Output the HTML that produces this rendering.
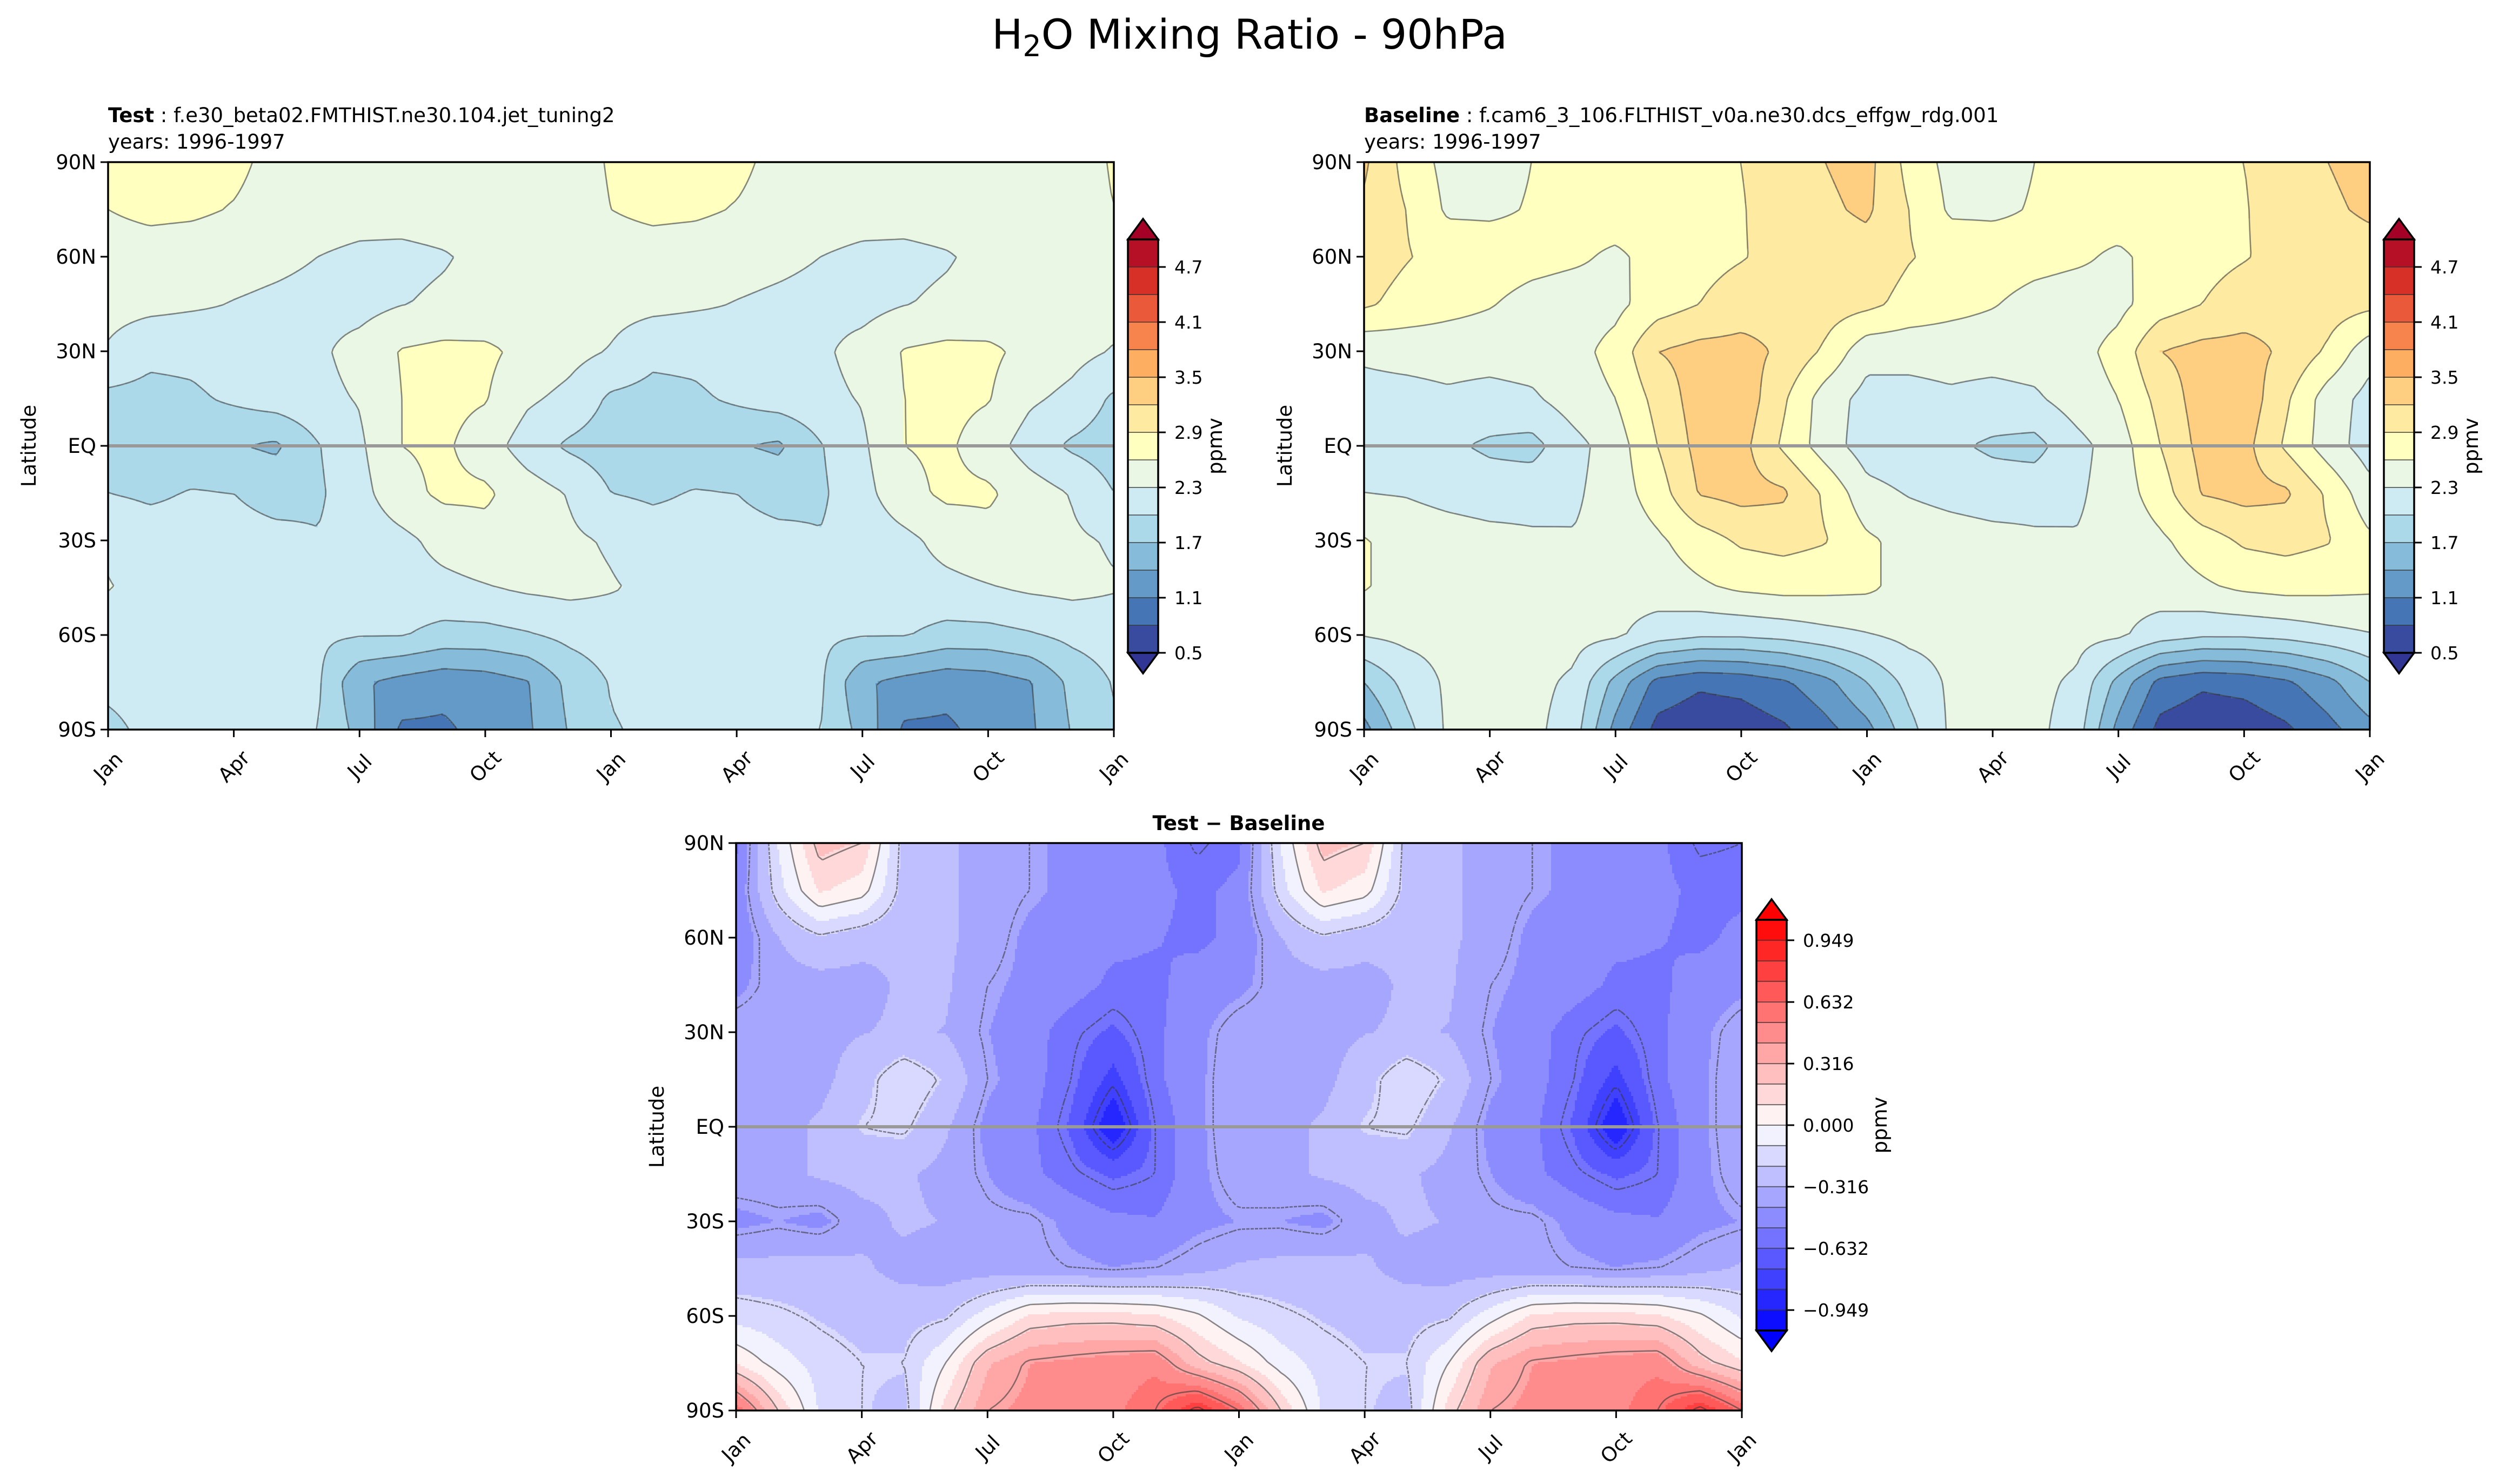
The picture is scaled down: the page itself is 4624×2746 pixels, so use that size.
<!DOCTYPE html>
<html>
<head>
<meta charset="utf-8">
<style>
html,body{margin:0;padding:0;background:#fff;}
svg{display:block;font-family:"DejaVu Sans","Liberation Sans",sans-serif;}
</style>
</head>
<body>
<svg id="fig" width="4624" height="2746" viewBox="0 0 4624 2746" xmlns="http://www.w3.org/2000/svg">
<rect x="0" y="0" width="4624" height="2746" fill="#fff"/>
<text x="2312" y="90" font-size="76" text-anchor="middle">H<tspan font-size="54" dy="14">2</tspan><tspan dy="-14">O Mixing Ratio - 90hPa</tspan></text>
<text x="200" y="226" font-size="37"><tspan font-weight="bold">Test</tspan> : f.e30_beta02.FMTHIST.ne30.104.jet_tuning2</text>
<text x="200" y="275" font-size="37">years: 1996-1997</text>
<text x="2524" y="226" font-size="37"><tspan font-weight="bold">Baseline</tspan> : f.cam6_3_106.FLTHIST_v0a.ne30.dcs_effgw_rdg.001</text>
<text x="2524" y="275" font-size="37">years: 1996-1997</text>
<text x="2292" y="1536" font-size="37" font-weight="bold" text-anchor="middle">Test − Baseline</text>
<g id="layer"></g>
</svg>
<script>
const latitudes=[90,75,60,45,30,15,0,-15,-30,-45,-60,-75,-90];
const monthTicks=[0,3,6,9,12,15,18,21,24];
const monthTickLabels=['Jan','Apr','Jul','Oct','Jan','Apr','Jul','Oct','Jan'];
const latTicks=[90,60,30,0,-30,-60,-90];
const latTickLabels=['90N','60N','30N','EQ','30S','60S','90S'];

const testLevels=[0.5,0.8,1.1,1.4,1.7,2.0,2.3,2.6,2.9,3.2,3.5,3.8,4.1,4.4,4.7,5.0];
const testCbTicks=[0.5,1.1,1.7,2.3,2.9,3.5,4.1,4.7];
const diffLevels=[-1.054,-0.949,-0.843,-0.738,-0.632,-0.527,-0.422,-0.316,-0.211,-0.105,0,0.105,0.211,0.316,0.422,0.527,0.632,0.738,0.843,0.949,1.054];
const diffCbTicks=[-0.949,-0.632,-0.316,0,0.316,0.632,0.949];
const diffCbTickLabels=['\u22120.949','\u22120.632','\u22120.316','0.000','0.316','0.632','0.949'];
const diffLineLevels=[-1.0,-0.8,-0.6,-0.4,-0.2,0.0,0.2,0.4,0.6,0.8];

const testValues=[
[2.62,2.7,2.7,2.68,2.5,2.45,2.45,2.45,2.45,2.45,2.45,2.5,2.62,2.7,2.7,2.68,2.5,2.45,2.45,2.45,2.45,2.45,2.45,2.5,2.62],
[2.6,2.68,2.66,2.58,2.47,2.42,2.4,2.4,2.42,2.44,2.45,2.5,2.6,2.68,2.66,2.58,2.47,2.42,2.4,2.4,2.42,2.44,2.45,2.5,2.6],
[2.45,2.45,2.42,2.4,2.36,2.3,2.25,2.24,2.28,2.36,2.42,2.45,2.45,2.45,2.42,2.4,2.36,2.3,2.25,2.24,2.28,2.36,2.42,2.45,2.45],
[2.4,2.38,2.34,2.29,2.25,2.22,2.2,2.29,2.34,2.38,2.4,2.4,2.4,2.38,2.34,2.29,2.25,2.22,2.2,2.29,2.34,2.38,2.4,2.4,2.4],
[2.27,2.08,2.08,2.15,2.2,2.25,2.4,2.62,2.68,2.66,2.52,2.4,2.28,2.08,2.08,2.15,2.2,2.25,2.4,2.62,2.68,2.66,2.52,2.4,2.28],
[1.92,1.9,1.95,2.05,2.15,2.22,2.32,2.6,2.68,2.62,2.35,2.22,1.95,1.9,1.95,2.05,2.15,2.22,2.32,2.6,2.68,2.62,2.35,2.22,1.95],
[1.85,1.82,1.8,1.72,1.65,1.98,2.25,2.6,2.65,2.45,2.15,1.95,1.85,1.82,1.8,1.72,1.65,1.98,2.25,2.6,2.65,2.45,2.15,1.95,1.85],
[2.0,1.95,2.02,2.0,1.9,1.95,2.2,2.5,2.66,2.65,2.45,2.28,2.0,1.95,2.02,2.0,1.9,1.95,2.2,2.5,2.66,2.65,2.45,2.28,2.0],
[2.27,2.15,2.12,2.1,2.08,2.02,2.12,2.22,2.4,2.5,2.45,2.35,2.27,2.15,2.12,2.1,2.08,2.02,2.12,2.22,2.4,2.5,2.45,2.35,2.27],
[2.31,2.25,2.2,2.18,2.15,2.15,2.15,2.18,2.22,2.28,2.35,2.38,2.32,2.25,2.2,2.18,2.15,2.15,2.15,2.18,2.22,2.28,2.35,2.38,2.32],
[2.15,2.15,2.12,2.1,2.08,2.05,2.02,2.02,1.9,1.9,1.97,2.08,2.15,2.15,2.12,2.1,2.08,2.05,2.02,2.02,1.9,1.9,1.97,2.08,2.15],
[2.05,2.08,2.1,2.1,2.08,2.05,1.45,1.3,1.2,1.25,1.38,1.78,2.02,2.08,2.1,2.1,2.08,2.05,1.45,1.3,1.2,1.25,1.38,1.78,2.02],
[1.95,2.05,2.1,2.1,2.1,2.0,1.6,1.05,1.05,1.2,1.35,1.72,1.98,2.05,2.1,2.1,2.1,2.0,1.6,1.05,1.05,1.2,1.35,1.72,1.98]
];

const baseValues=[
[3.25,2.8,2.5,2.5,2.6,2.75,2.8,2.82,2.85,2.9,3.05,3.2,3.3,2.8,2.5,2.5,2.6,2.75,2.8,2.82,2.85,2.9,3.05,3.2,3.3],
[3.15,2.9,2.55,2.55,2.62,2.7,2.75,2.78,2.8,2.88,3.05,3.15,3.25,2.9,2.55,2.55,2.62,2.7,2.75,2.78,2.8,2.88,3.05,3.15,3.25],
[3.05,2.92,2.8,2.75,2.7,2.65,2.55,2.7,2.8,2.88,3.0,3.05,3.08,2.92,2.8,2.75,2.7,2.65,2.55,2.7,2.8,2.88,3.0,3.05,3.08],
[2.95,2.8,2.7,2.62,2.5,2.45,2.52,2.75,2.9,3.05,3.1,3.05,2.98,2.8,2.7,2.62,2.5,2.45,2.52,2.75,2.9,3.05,3.1,3.05,2.98],
[2.35,2.4,2.42,2.42,2.45,2.5,2.7,3.2,3.3,3.3,3.15,2.85,2.4,2.4,2.42,2.42,2.45,2.5,2.7,3.2,3.3,3.3,3.15,2.85,2.4],
[2.2,2.2,2.25,2.2,2.25,2.45,2.6,3.0,3.35,3.4,2.95,2.45,2.2,2.2,2.25,2.2,2.25,2.45,2.6,3.0,3.35,3.4,2.95,2.45,2.2],
[2.15,2.1,2.05,1.95,1.9,2.2,2.45,2.9,3.3,3.3,2.85,2.45,2.15,2.1,2.05,1.95,1.9,2.2,2.45,2.9,3.3,3.3,2.85,2.45,2.15],
[2.3,2.28,2.2,2.15,2.18,2.25,2.45,2.75,3.22,3.3,3.25,2.85,2.4,2.28,2.2,2.15,2.18,2.25,2.45,2.75,3.22,3.3,3.25,2.85,2.4],
[2.62,2.5,2.45,2.4,2.35,2.32,2.4,2.55,2.75,2.95,3.0,2.92,2.65,2.5,2.45,2.4,2.35,2.32,2.4,2.55,2.75,2.95,3.0,2.92,2.65],
[2.62,2.5,2.45,2.42,2.4,2.4,2.4,2.45,2.55,2.65,2.7,2.68,2.65,2.5,2.45,2.42,2.4,2.4,2.4,2.45,2.55,2.65,2.7,2.68,2.65],
[2.32,2.38,2.4,2.42,2.42,2.4,2.35,2.15,2.05,2.05,2.1,2.2,2.28,2.38,2.4,2.42,2.42,2.4,2.35,2.15,2.05,2.05,2.1,2.2,2.28],
[1.7,2.1,2.35,2.4,2.38,2.25,1.6,1.0,0.85,0.9,1.05,1.3,1.7,2.1,2.35,2.4,2.38,2.25,1.6,1.0,0.85,0.9,1.05,1.3,1.7],
[1.3,1.9,2.35,2.4,2.38,2.15,1.3,0.7,0.6,0.62,0.75,1.0,1.3,1.9,2.35,2.4,2.38,2.15,1.3,0.7,0.6,0.62,0.75,1.0,1.3]
];

const diffValues=[
[-0.55,-0.1,0.25,0.2,-0.25,-0.3,-0.35,-0.4,-0.45,-0.45,-0.5,-0.62,-0.55,-0.1,0.25,0.2,-0.25,-0.3,-0.35,-0.4,-0.45,-0.45,-0.5,-0.62,-0.6],
[-0.5,-0.15,0.12,0.05,-0.25,-0.3,-0.35,-0.4,-0.45,-0.45,-0.5,-0.55,-0.5,-0.15,0.12,0.05,-0.25,-0.3,-0.35,-0.4,-0.45,-0.45,-0.5,-0.55,-0.55],
[-0.5,-0.32,-0.22,-0.28,-0.3,-0.3,-0.35,-0.45,-0.48,-0.5,-0.52,-0.55,-0.5,-0.32,-0.22,-0.28,-0.3,-0.3,-0.35,-0.45,-0.48,-0.5,-0.52,-0.55,-0.5],
[-0.45,-0.36,-0.36,-0.35,-0.3,-0.3,-0.4,-0.45,-0.48,-0.55,-0.55,-0.48,-0.45,-0.36,-0.36,-0.35,-0.3,-0.3,-0.4,-0.45,-0.48,-0.55,-0.55,-0.48,-0.45],
[-0.35,-0.35,-0.35,-0.32,-0.3,-0.32,-0.42,-0.48,-0.58,-0.65,-0.55,-0.45,-0.35,-0.35,-0.35,-0.32,-0.3,-0.32,-0.42,-0.48,-0.58,-0.65,-0.55,-0.45,-0.35],
[-0.32,-0.35,-0.35,-0.25,-0.12,-0.22,-0.4,-0.48,-0.6,-0.78,-0.55,-0.45,-0.32,-0.35,-0.35,-0.25,-0.12,-0.22,-0.4,-0.48,-0.6,-0.78,-0.55,-0.45,-0.32],
[-0.32,-0.35,-0.3,-0.2,-0.18,-0.3,-0.45,-0.5,-0.65,-0.95,-0.6,-0.45,-0.32,-0.35,-0.3,-0.2,-0.18,-0.3,-0.45,-0.5,-0.65,-0.95,-0.6,-0.45,-0.32],
[-0.35,-0.35,-0.3,-0.28,-0.3,-0.35,-0.42,-0.5,-0.58,-0.65,-0.6,-0.45,-0.35,-0.35,-0.3,-0.28,-0.3,-0.35,-0.42,-0.5,-0.58,-0.65,-0.6,-0.45,-0.35],
[-0.45,-0.42,-0.45,-0.35,-0.3,-0.32,-0.38,-0.38,-0.45,-0.5,-0.52,-0.45,-0.42,-0.42,-0.45,-0.35,-0.3,-0.32,-0.38,-0.38,-0.45,-0.5,-0.52,-0.45,-0.42],
[-0.28,-0.28,-0.27,-0.3,-0.35,-0.37,-0.37,-0.38,-0.4,-0.42,-0.4,-0.35,-0.3,-0.28,-0.27,-0.3,-0.35,-0.37,-0.37,-0.38,-0.4,-0.42,-0.4,-0.35,-0.3],
[-0.15,-0.18,-0.22,-0.25,-0.25,-0.22,-0.05,0.12,0.15,0.15,0.12,0.02,-0.12,-0.18,-0.22,-0.25,-0.25,-0.22,-0.05,0.12,0.15,0.15,0.12,0.02,-0.12],
[0.1,-0.05,-0.15,-0.2,-0.2,0.0,0.3,0.42,0.45,0.48,0.5,0.25,0.12,-0.05,-0.15,-0.2,-0.2,0.0,0.3,0.42,0.45,0.48,0.5,0.25,0.12],
[0.6,0.2,-0.12,-0.2,-0.25,0.15,0.4,0.45,0.48,0.5,0.6,0.85,0.6,0.2,-0.12,-0.2,-0.25,0.15,0.4,0.45,0.48,0.5,0.6,0.85,0.6]
];

const NS='http://www.w3.org/2000/svg';
const layer=document.getElementById('layer');
function mk(tag,attrs,parent){
  const el=document.createElementNS(NS,tag);
  for(const k in attrs) el.setAttribute(k,attrs[k]);
  (parent||layer).appendChild(el);
  return el;
}
const rdylbu=['#313695','#4575b4','#74add1','#abd9e9','#e0f3f8','#ffffbf','#fee090','#fdae61','#f46d43','#d73027','#a50026'];
function hex2rgb(h){return [parseInt(h.substr(1,2),16),parseInt(h.substr(3,2),16),parseInt(h.substr(5,2),16)];}
function rgbStr(c){return 'rgb('+c.map(v=>Math.round(v)).join(',')+')';}
function cmapRdYlBuR(t){
  t=Math.max(0,Math.min(1,t));
  const p=t*10, i=Math.min(9,Math.floor(p)), f=p-i;
  const a=hex2rgb(rdylbu[i]), b=hex2rgb(rdylbu[i+1]);
  return rgbStr([a[0]+(b[0]-a[0])*f,a[1]+(b[1]-a[1])*f,a[2]+(b[2]-a[2])*f]);
}
function cmapBwr(t){
  t=Math.max(0,Math.min(1,t));
  if(t<0.5){const v=2*t*255;return rgbStr([v,v,255]);}
  const v=2*(1-t)*255;return rgbStr([255,v,v]);
}
function intervalIndex(levels,v){
  if(v<levels[0]) return -1;
  for(let k=0;k<levels.length-1;k++){ if(v<levels[k+1]) return k; }
  return levels.length-1;
}
function intervalColor(levels,cmap,k){
  const n=levels.length-1;
  if(k<0) return cmap(0);
  if(k>=n) return cmap(1);
  return cmap((k+0.5)/n);
}
function sampleGrid(grid,m,lat){
  const r=(90-lat)/15;
  const r0=Math.max(0,Math.min(11,Math.floor(r))), fr=Math.max(0,Math.min(1,r-r0));
  const c0=Math.max(0,Math.min(23,Math.floor(m))), fc=Math.max(0,Math.min(1,m-c0));
  const a=grid[r0][c0], b=grid[r0][c0+1], c=grid[r0+1][c0], d=grid[r0+1][c0+1];
  return (a*(1-fc)+b*fc)*(1-fr)+(c*(1-fc)+d*fc)*fr;
}

function drawPanel(name,grid,x0,y0,w,h,levels,cmap,lineLevels,dashNeg){
  const xOf=m=>x0+m/24*w;
  const yOf=lat=>y0+(90-lat)/180*h;
  const clipId='clip-'+name;
  const cp=mk('clipPath',{id:clipId});
  mk('rect',{x:x0,y:y0,width:w,height:h},cp);
  const g=mk('g',{'clip-path':'url(#'+clipId+')'});
  
  
  const step=4;
  function flush(xs,xe,yy,k){
    const cell=mk('rect',{x:xs,y:yy,width:xe-xs+0.6,height:step+0.6,fill:intervalColor(levels,cmap,k)},g);
    
    
  }
  for(let yy=y0; yy<y0+h; yy+=step){
    const lat=90-((yy+step/2-y0)/h)*180;
    let runStart=x0, runK=null;
    for(let xx=x0; xx<x0+w; xx+=step){
      const m=Math.min(24,(xx+step/2-x0)/w*24);
      const k=intervalIndex(levels,sampleGrid(grid,m,lat));
      if(runK===null){runK=k;runStart=xx;continue;}
      if(k!==runK){ flush(runStart,xx,yy,runK); runK=k; runStart=xx; }
    }
    flush(runStart,x0+w,yy,runK);
  }
  const cs=8, nx=Math.ceil(w/cs)+1, ny=Math.ceil(h/cs)+1;
  const f=[];
  for(let j=0;j<ny;j++){
    const row=[]; const lat=90-Math.min(h,j*cs)/h*180;
    for(let i=0;i<nx;i++){ row.push(sampleGrid(grid,Math.min(w,i*cs)/w*24,lat)); }
    f.push(row);
  }
  lineLevels.forEach(L=>{
    let d='';
    for(let j=0;j<ny-1;j++)for(let i=0;i<nx-1;i++){
      const a=f[j][i],b=f[j][i+1],c=f[j+1][i+1],e=f[j+1][i];
      const idx=(a>=L?8:0)|(b>=L?4:0)|(c>=L?2:0)|(e>=L?1:0);
      if(idx===0||idx===15) continue;
      const px=x0+i*cs, py=y0+j*cs;
      const T=[px+cs*(L-a)/(b-a),py], R=[px+cs,py+cs*(L-b)/(c-b)], B=[px+cs*(L-e)/(c-e),py+cs], Lf=[px,py+cs*(L-a)/(e-a)];
      const seg=(p,q)=>{d+='M'+p[0].toFixed(1)+' '+p[1].toFixed(1)+'L'+q[0].toFixed(1)+' '+q[1].toFixed(1);};
      switch(idx){
        case 1:case 14:seg(Lf,B);break;
        case 2:case 13:seg(B,R);break;
        case 3:case 12:seg(Lf,R);break;
        case 4:case 11:seg(T,R);break;
        case 6:case 9:seg(T,B);break;
        case 7:case 8:seg(T,Lf);break;
        case 5:seg(T,Lf);seg(B,R);break;
        case 10:seg(T,R);seg(Lf,B);break;
      }
    }
    if(d){
      const attrs={d:d,fill:'none',stroke:'#3a3a3a','stroke-opacity':'0.6','stroke-width':'2.6'};
      if(dashNeg && L<-1e-9) attrs['stroke-dasharray']='6 4';
      const p=mk('path',attrs,g);
      
      
    }
  });
  const eq=mk('line',{x1:x0,x2:x0+w,y1:yOf(0),y2:yOf(0),stroke:'#999','stroke-width':'6'});
  
  
  const fr=mk('rect',{x:x0,y:y0,width:w,height:h,fill:'none',stroke:'#000','stroke-width':'3.5'});
  
  
  latTicks.forEach((lat,i)=>{
    const y=yOf(lat);
    const t=mk('line',{x1:x0-14,x2:x0,y1:y,y2:y,stroke:'#000','stroke-width':'3'});
    
    
    const tx=mk('text',{x:x0-22,y:y+13,'font-size':'37','text-anchor':'end'});
    tx.textContent=latTickLabels[i];
    
    
  });
  monthTicks.forEach((m,i)=>{
    const x=xOf(m);
    const t=mk('line',{x1:x,x2:x,y1:y0+h,y2:y0+h+14,stroke:'#000','stroke-width':'3'});
    
    
    const cy=y0+h+68;
    const tx=mk('text',{x:x,y:cy+13,'font-size':'37','text-anchor':'middle',transform:'rotate(-45 '+x+' '+cy+')'});
    tx.textContent=monthTickLabels[i];
    
    
  });
  const yl=mk('text',{x:x0-134,y:y0+h/2,'font-size':'37','text-anchor':'middle',transform:'rotate(-90 '+(x0-134)+' '+(y0+h/2)+')'});
  yl.textContent='Latitude';
  
  
}

function drawColorbar(name,x,yTop,yBot,levels,cmap,ticks,tickLabels,labelOffset){
  const w=56, n=levels.length-1, seg=(yBot-yTop)/n, tip=38;
  const yv=v=>yBot-(v-levels[0])/(levels[n]-levels[0])*(yBot-yTop);
  for(let k=0;k<n;k++){
    const r=mk('rect',{x:x,y:yv(levels[k+1]),width:w,height:seg+0.5,fill:intervalColor(levels,cmap,k)});
    
    
    if(k>0){
      const ln=mk('line',{x1:x,x2:x+w,y1:yv(levels[k]),y2:yv(levels[k]),stroke:'#333','stroke-opacity':'0.7','stroke-width':'2'});
      
      
    }
  }
  const up=mk('polygon',{points:x+','+yTop+' '+(x+w/2)+','+(yTop-tip)+' '+(x+w)+','+yTop,fill:intervalColor(levels,cmap,n),stroke:'#000','stroke-width':'3.5','stroke-linejoin':'miter'});
  
  
  const dn=mk('polygon',{points:x+','+yBot+' '+(x+w/2)+','+(yBot+tip)+' '+(x+w)+','+yBot,fill:intervalColor(levels,cmap,-1),stroke:'#000','stroke-width':'3.5'});
  
  
  const ol=mk('rect',{x:x,y:yTop,width:w,height:yBot-yTop,fill:'none',stroke:'#000','stroke-width':'3.5'});
  
  
  ticks.forEach((v,i)=>{
    const y=yv(v);
    const t=mk('line',{x1:x+w,x2:x+w+14,y1:y,y2:y,stroke:'#000','stroke-width':'3'});
    
    
    const tx=mk('text',{x:x+w+30,y:y+12,'font-size':'33'});
    tx.textContent=tickLabels[i];
    
    
  });
  const lx=x+w+labelOffset, ly=(yTop+yBot)/2;
  const lb=mk('text',{x:lx,y:ly,'font-size':'37','text-anchor':'middle',transform:'rotate(-90 '+lx+' '+ly+')'});
  lb.textContent='ppmv';
  
  
}

const testLineLevels=testLevels;
drawPanel('test-panel',testValues,200,300,1861,1050,testLevels,cmapRdYlBuR,testLineLevels,false);
drawPanel('baseline-panel',baseValues,2524,300,1861,1050,testLevels,cmapRdYlBuR,testLineLevels,false);
drawPanel('diff-panel',diffValues,1362,1560,1861,1050,diffLevels,cmapBwr,diffLineLevels,true);
const testCbLabels=testCbTicks.map(v=>v.toFixed(1));
drawColorbar('test-colorbar',2087,443,1208,testLevels,cmapRdYlBuR,testCbTicks,testCbLabels,118);
drawColorbar('baseline-colorbar',4411,443,1208,testLevels,cmapRdYlBuR,testCbTicks,testCbLabels,118);
drawColorbar('diff-colorbar',3250,1702,2462,diffLevels,cmapBwr,diffCbTicks,diffCbTickLabels,185);
</script>
</body>
</html>
